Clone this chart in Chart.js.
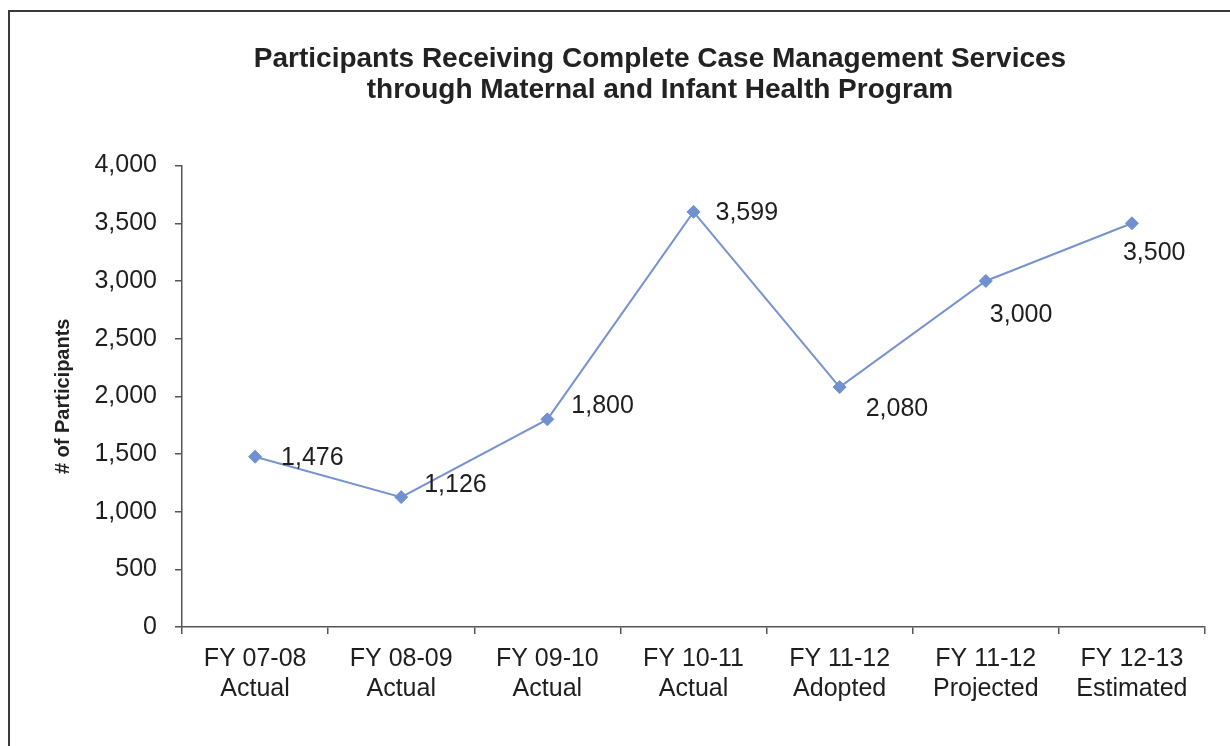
<!DOCTYPE html>
<html>
<head>
<meta charset="utf-8">
<script src="https://cdn.jsdelivr.net/npm/chart.js@4.4.1/dist/chart.umd.min.js"></script>
<style>
html, body { margin: 0; padding: 0; background: #fff; overflow: hidden; width: 1230px; height: 746px; }
#frame { position: absolute; left: 8px; top: 10px; width: 1300px; height: 760px; border: 2px solid #3a3a3a; }
canvas { display: block; }
</style>
</head>
<body>
<div id="frame"><canvas id="c" width="1300" height="760"></canvas></div>
<script>
// ---- data ----
const titleLines = [
  'Participants Receiving Complete Case Management Services',
  'through Maternal and Infant Health Program'
];
const categories = [
  ['FY 07-08', 'Actual'],
  ['FY 08-09', 'Actual'],
  ['FY 09-10', 'Actual'],
  ['FY 10-11', 'Actual'],
  ['FY 11-12', 'Adopted'],
  ['FY 11-12', 'Projected'],
  ['FY 12-13', 'Estimated']
];
const participants = [1476, 1126, 1800, 3599, 2080, 3000, 3500];
const yTickValues = [0, 500, 1000, 1500, 2000, 2500, 3000, 3500, 4000];
const yAxisTitle = '# of Participants';

// ---- rendering ----
const FONT = 'Liberation Sans, Arial, sans-serif';
Chart.defaults.font.family = FONT;
const fmt = v => Number(v).toLocaleString('en-US');

const valueLabels = {
  id: 'valueLabels',
  afterDatasetsDraw(chart, args, opts) {
    const ctx = chart.ctx;
    const meta = chart.getDatasetMeta(0);
    const data = chart.data.datasets[0].data;
    ctx.save();
    ctx.font = opts.font;
    ctx.fillStyle = opts.color;
    ctx.textAlign = 'left';
    ctx.textBaseline = 'middle';
    meta.data.forEach((pt, i) => {
      const off = opts.offsets[i] || [0, 0];
      ctx.fillText(fmt(data[i]), pt.x + off[0], pt.y + off[1]);
    });
    ctx.restore();
  }
};

new Chart(document.getElementById('c'), {
  type: 'line',
  data: {
    labels: categories,
    datasets: [{
      data: participants,
      yAxisID: 'y',
      borderColor: '#7893cf',
      borderWidth: 2,
      backgroundColor: '#7090cf',
      pointBackgroundColor: '#7090cf',
      pointBorderColor: '#7090cf',
      pointStyle: 'rectRot',
      pointRadius: 6.5,
      pointBorderWidth: 1,
      tension: 0,
      fill: false
    }]
  },
  options: {
    responsive: false,
    animation: false,
    devicePixelRatio: 1,
    layout: { padding: { left: 0, right: 0, top: 0, bottom: 58 } },
    plugins: {
      legend: { display: false },
      tooltip: { enabled: false },
      title: {
        display: true,
        text: titleLines,
        color: '#222',
        font: { family: FONT, size: 28, weight: 'bold', lineHeight: 1.1 },
        padding: { top: 32, bottom: 60 }
      },
      valueLabels: {
        font: '25px ' + FONT,
        color: '#1e1e1e',
        offsets: [[26, 1], [23, -12], [24, -13], [22, 1], [26, 22], [4, 34], [-9, 30]]
      }
    },
    scales: {
      x: {
        type: 'category',
        offset: true,
        grid: { display: true, drawOnChartArea: false, drawTicks: true, tickLength: 7, color: '#555', offset: true, lineWidth: 1.5 },
        border: { display: true, color: '#555', width: 1.5 },
        ticks: { color: '#1e1e1e', font: { family: FONT, size: 25, lineHeight: 1.2 }, padding: 10, maxRotation: 0, autoSkip: false }
      },
      y: {
        position: 'left',
        min: 0,
        max: 4000,
        afterBuildTicks: s => { s.ticks = yTickValues.map(v => ({ value: v })); },
        afterFit: s => { s.width = 172; },
        grid: { display: true, drawOnChartArea: false, drawTicks: true, tickLength: 7, color: '#555', lineWidth: 1.5 },
        border: { display: true, color: '#555', width: 1.5 },
        ticks: { color: '#1e1e1e', font: { family: FONT, size: 25 }, padding: 18, callback: v => fmt(v) },
        title: {
          display: true,
          text: yAxisTitle,
          color: '#222',
          font: { family: FONT, size: 20, weight: 'bold', lineHeight: 1.2 },
          padding: { top: 41, bottom: 0 }
        }
      },
      // empty right-hand margin of the Excel chart area (no marks)
      margin: {
        type: 'linear',
        position: 'right',
        display: true,
        afterFit: s => { s.width = 105; },
        grid: { display: false },
        border: { display: false },
        ticks: { display: false }
      }
    }
  },
  plugins: [valueLabels]
});
</script>
</body>
</html>
